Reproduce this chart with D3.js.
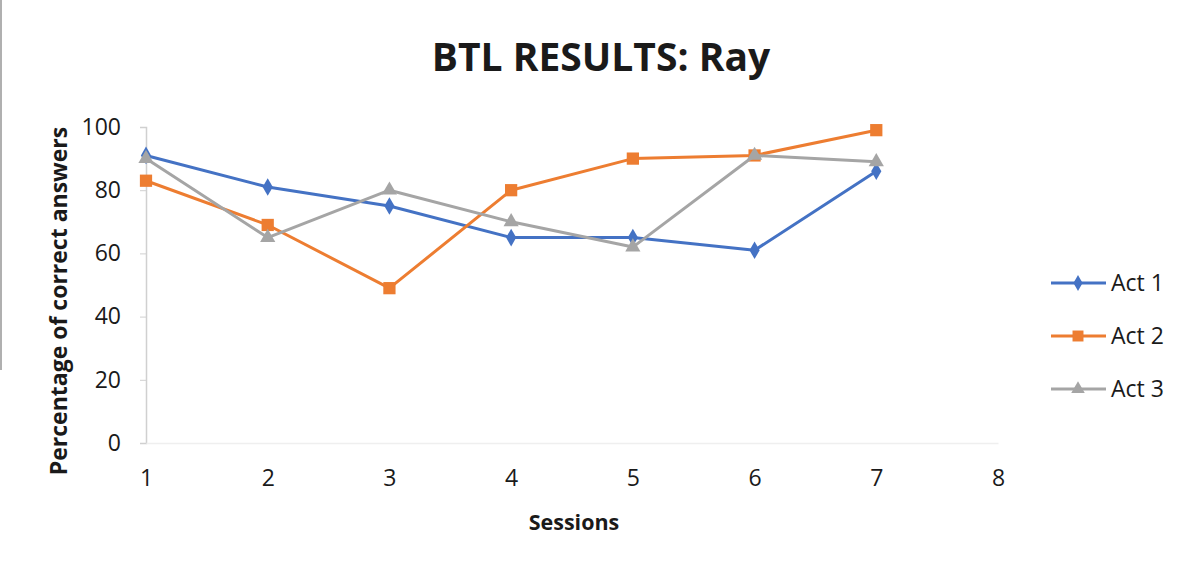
<!DOCTYPE html>
<html>
<head>
<meta charset="utf-8">
<script src="https://cdn.jsdelivr.net/npm/d3@7/dist/d3.min.js"></script>
<style>
  html, body { margin: 0; padding: 0; background: #fff; }
  svg { display: block; }
</style>
</head>
<body>
<svg id="chart" width="1200" height="577"></svg>
<script>
// Session numbers along the x axis
const sessions = [1, 2, 3, 4, 5, 6, 7, 8];
// Percentage of correct answers per session
const act1 = [91, 81, 75, 65, 65, 61, 86];
const act2 = [83, 69, 49, 80, 90, 91, 99];
const act3 = [90, 65, 80, 70, 62, 91, 89];
const seriesNames = ["Act 1", "Act 2", "Act 3"];
const yTicks = [0, 20, 40, 60, 80, 100];

const colors = ["#4472C4", "#ED7D31", "#A5A5A5"];
const symbols = [d3.symbolDiamond, d3.symbolSquare, d3.symbolTriangle];
const symbolSizes = [90, 150, 100];

const svg = d3.select("#chart");
const font = "'Open Sans', 'Noto Sans', sans-serif";
const ink = "#1a1a1a";

// left edge of the chart frame
svg.append("line").attr("x1", 1).attr("x2", 1).attr("y1", 0).attr("y2", 370)
  .attr("stroke", "#b0b0b0").attr("stroke-width", 2);

const x = d3.scaleLinear().domain([1, 8]).range([146, 998]);
const y = d3.scaleLinear().domain([0, 100]).range([443, 127]);

// title
svg.append("text").attr("x", 601).attr("y", 71).attr("text-anchor", "middle")
  .attr("font-family", font).attr("font-weight", "bold").attr("font-size", 39)
  .attr("fill", ink).text("BTL RESULTS: Ray");

// y axis
const yAxis = d3.axisLeft(y).tickValues(yTicks).tickSize(6).tickPadding(19);
const yg = svg.append("g").attr("transform", `translate(${x(1)},0)`).call(yAxis);
yg.select(".domain").attr("stroke", "#d0d0d0").attr("stroke-width", 1.5);
yg.selectAll(".tick line").attr("stroke", "#d0d0d0");
yg.selectAll(".tick text").attr("font-family", font).attr("font-size", 23).attr("fill", ink);

// x axis
const xAxis = d3.axisBottom(x).tickValues(sessions).tickSize(0).tickPadding(27).tickFormat(d3.format("d"));
const xg = svg.append("g").attr("transform", `translate(0,${y(0)})`).call(xAxis);
xg.select(".domain").attr("stroke", "#efefef").attr("stroke-width", 1.5);
xg.selectAll(".tick text").attr("font-family", font).attr("font-size", 23).attr("fill", ink);

// axis titles
svg.append("text").attr("x", 574).attr("y", 530).attr("text-anchor", "middle")
  .attr("font-family", font).attr("font-weight", "bold").attr("font-size", 21.5)
  .attr("fill", ink).text("Sessions");
svg.append("text").attr("transform", "translate(67,301) rotate(-90)").attr("text-anchor", "middle")
  .attr("font-family", font).attr("font-weight", "bold").attr("font-size", 23)
  .attr("fill", ink).text("Percentage of correct answers");

// series
const allSeries = [act1, act2, act3];
const line = d3.line().x((d, i) => x(sessions[i])).y(d => y(d));

allSeries.forEach((vals, s) => {
  const g = svg.append("g");
  g.append("path").datum(vals).attr("d", line).attr("fill", "none")
    .attr("stroke", colors[s]).attr("stroke-width", 3).attr("stroke-linejoin", "round");
  g.selectAll("path.pt").data(vals).enter().append("path").attr("class", "pt")
    .attr("transform", (d, i) => `translate(${x(sessions[i])},${y(d)})`)
    .attr("d", d3.symbol().type(symbols[s]).size(symbolSizes[s]))
    .attr("fill", colors[s]);
});

// legend
const legendY = [283, 336, 389];
seriesNames.forEach((name, s) => {
  const g = svg.append("g").attr("transform", `translate(0,${legendY[s]})`);
  g.append("line").attr("x1", 1051).attr("x2", 1106).attr("y1", 0).attr("y2", 0)
    .attr("stroke", colors[s]).attr("stroke-width", 3);
  g.append("path").attr("transform", "translate(1078,0)")
    .attr("d", d3.symbol().type(symbols[s]).size(symbolSizes[s] * 0.8))
    .attr("fill", colors[s]);
  g.append("text").attr("x", 1111).attr("y", 8).attr("font-family", font)
    .attr("font-size", 23).attr("fill", ink).text(name);
});
</script>
</body>
</html>
